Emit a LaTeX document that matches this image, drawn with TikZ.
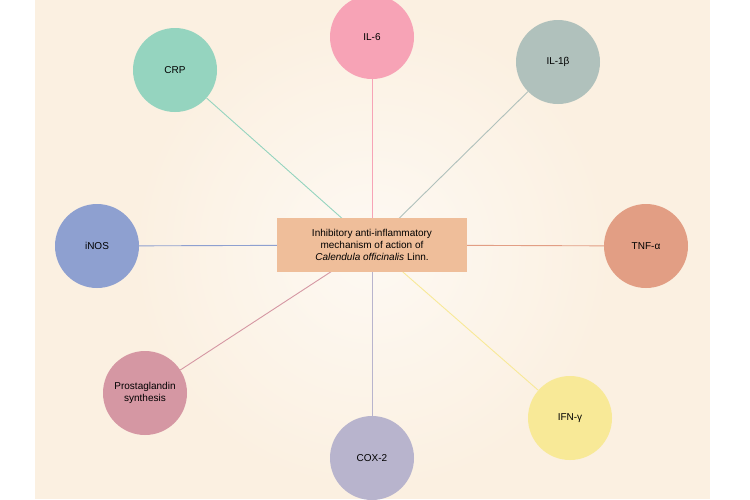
\documentclass[tikz,border=0pt]{standalone}
\usepackage{fontspec}
\setmainfont{Liberation Sans}
\usetikzlibrary{backgrounds}
\definecolor{cream}{HTML}{FBF0E1}
\definecolor{cil6}{HTML}{F7A3B6}
\definecolor{cil1}{HTML}{B0C1BC}
\definecolor{ctnf}{HTML}{E29E84}
\definecolor{cifn}{HTML}{F8E997}
\definecolor{ccox}{HTML}{B8B4CD}
\definecolor{cpg}{HTML}{D597A3}
\definecolor{cinos}{HTML}{8EA0D0}
\definecolor{ccrp}{HTML}{95D4BF}
\definecolor{cbox}{HTML}{EFBE9A}
\tikzset{
  factor/.style={circle, minimum size=84pt, inner sep=1pt, align=center, font=\fontsize{10}{12}\selectfont},
  link/.style={line width=0.9pt},
}
\begin{document}
\begin{tikzpicture}[x=1pt,y=-1pt]
\useasboundingbox (0,0) rectangle (750,499);
\node [draw=none, fill=cbox, minimum width=190pt, minimum height=54pt, align=center, font=\fontsize{10}{12}\selectfont] (center) at (372,245) {Inhibitory anti-inflammatory\\mechanism of action of\\\textit{Calendula officinalis} Linn.};
\node [factor, fill=cil6] (il6) at (372,37) {IL-6};
\node [factor, fill=cil1] (il1) at (558,62) {IL-1β};
\node [factor, fill=ctnf] (tnf) at (646,246) {TNF-α};
\node [factor, fill=cifn] (ifn) at (570,418) {IFN-γ};
\node [factor, fill=ccox] (cox) at (372,458) {COX-2};
\node [factor, fill=cpg] (pg) at (145,393) {Prostaglandin\\synthesis};
\node [factor, fill=cinos] (inos) at (97,246) {iNOS};
\node [factor, fill=ccrp] (crp) at (175,70) {CRP};
\begin{pgfonlayer}{background}
\fill [cream] (35,0) rectangle (710,499);
\shade [inner color=white!60!cream, outer color=cream] (372,250) circle (240);
\foreach \n/\c in {il6/cil6, il1/cil1, tnf/ctnf, ifn/cifn, cox/ccox, pg/cpg, inos/cinos, crp/ccrp}
  \draw [link, \c] (center.center) -- (\n);
\end{pgfonlayer}
\end{tikzpicture}
\end{document}
